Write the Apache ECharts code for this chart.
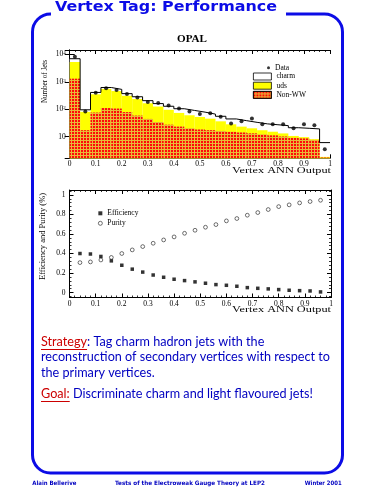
<!DOCTYPE html>
<html><head><meta charset="utf-8">
<script src="https://cdn.jsdelivr.net/npm/echarts@6/dist/echarts.min.js"></script>
<style>html,body{margin:0;padding:0;background:#fff}#c{width:375px;height:500px}</style>
</head><body><div id="c"></div>
<script>
// ---------- data ----------
const binLow = [0,0.04,0.08,0.12,0.16,0.2,0.24,0.28,0.32,0.36,0.4,0.44,0.48,0.52,0.56,0.6,0.64,0.68,0.72,0.76,0.8,0.84,0.88,0.92,0.96];
const binWidth = 0.04;
const nonWW = [1300,17,75,110,105,78,58,44,34,27,23,20,18,17,16,15,14,13,12,11,10,9,8.5,7.5,1.7];
const uds   = [4000,63,275,440,355,232,177,121,91,68,50,40,34,28,20,13,9,7,5,4,3,1.5,1,0.5,0.1];
const charm = [1700,15,60,70,70,60,50,40,35,33,31,30,26,21,19,16,15,13,12,12,12,10.5,10.5,11,4.2];
const dataJets = [8300,82,400,580,500,357,265,182,170,136,107,83,66,71,53,30,36,46,28,28,28,20,28,26,3.4];

const cutX = [0.04,0.08,0.12,0.16,0.2,0.24,0.28,0.32,0.36,0.4,0.44,0.48,0.52,0.56,0.6,0.64,0.68,0.72,0.76,0.8,0.84,0.88,0.92,0.96];
const efficiency = [0.40,0.395,0.37,0.325,0.28,0.24,0.21,0.18,0.157,0.137,0.123,0.11,0.096,0.082,0.075,0.065,0.051,0.044,0.038,0.031,0.024,0.02,0.017,0.007];
const purity = [0.307,0.314,0.334,0.36,0.40,0.437,0.471,0.505,0.539,0.57,0.607,0.638,0.669,0.696,0.734,0.758,0.792,0.819,0.85,0.88,0.898,0.918,0.932,0.945];

// cumulative tops for overlaid histogram
const cumNon = nonWW.slice();
const cumUds = nonWW.map((v,i)=>v+uds[i]);
const cumTot = cumUds.map((v,i)=>v+charm[i]);
const cats = binLow.map(v=>v.toFixed(2));
const outline = binLow.map((x,i)=>[x,cumTot[i]]).concat([[binLow[binLow.length-1]+binWidth, cumTot[cumTot.length-1]]]);

// ---------- helpers ----------
const mctx = document.createElement('canvas').getContext('2d');
function measure(t, font){ mctx.font = font; return mctx.measureText(t).width; }
const SERIF = '"Liberation Serif", "DejaVu Serif", serif';
const BLUE = '#0c0ce6', TXT = '#0000c0', RED = '#cc0000';

function fitText(text, x, y, w, size, family, weight, color, align, opts){
  const font = (weight||'normal')+' '+size+'px '+family;
  const s = w / measure(text, font);
  return Object.assign({type:'text', x, y, scaleX:s, z:100,
    style:{text, fontSize:size, fontFamily:family, fontWeight:weight||'normal', fill:color,
      textAlign:align||'left', textVerticalAlign:'middle'}}, opts||{});
}

// body text scale from longest line
const BODYF = 'Lato, "Open Sans", sans-serif', BODYS = 14;
const bodyFont = 'normal '+BODYS+'px '+BODYF;
const line2 = 'reconstruction of secondary vertices with respect to';
const bscale = 289 / measure(line2, bodyFont);
function bodyLine(rich, y){
  return {type:'text', x:41, y, scaleX:bscale, z:100,
    style:{text:rich, fontSize:BODYS, fontFamily:BODYF, fill:TXT, textAlign:'left', textVerticalAlign:'middle',
      rich:{r:{fill:RED, fontSize:BODYS, fontFamily:BODYF}}}};
}
const wStrategy = measure('Strategy', bodyFont)*bscale;
const wGoal = measure('Goal:', bodyFont)*bscale;

const axisFont = {fontFamily:SERIF, fontSize:7.5, color:'#000'};
const lineBlack = {lineStyle:{color:'#000', width:1}};

function xVal(grid, pos, labels, margin){
  return {type:'value', gridIndex:grid, min:0, max:1, interval:0.1, position:pos,
    axisLine:{show:true, onZero:false, ...lineBlack},
    axisTick:{show:true, inside:true, length:4, ...lineBlack},
    minorTick:{show:true, splitNumber:5, length:2, lineStyle:{color:'#000', width:0.8}},
    splitLine:{show:false},
    axisLabel:{show:labels, margin:margin||1, ...axisFont}};
}

const chart = echarts.init(document.getElementById('c'), null, {renderer:'canvas'});
const option = {
  animation:false,
  backgroundColor:'#fff',
  grid:[
    {left:69.7, top:50, width:260.3, height:108.3},
    {left:69.5, top:190, width:261.5, height:107.5}
  ],
  xAxis:[
    {type:'category', gridIndex:0, data:cats, show:false, boundaryGap:true},
    xVal(0,'bottom',true,1.5),
    xVal(0,'top',false),
    xVal(1,'bottom',true,2.5),
    xVal(1,'top',false)
  ],
  yAxis:[
    {type:'log', gridIndex:0, min:1.6, max:14600, position:'left',
      axisLine:{show:true, ...lineBlack}, axisTick:{show:true, inside:true, length:5, ...lineBlack},
      splitLine:{show:false},
      axisLabel:{margin:4, showMinLabel:false, showMaxLabel:false, ...axisFont,
        formatter:v=>{const e=Math.round(Math.log10(v)); return e===1?'10':'10{s|'+e+'}';},
        rich:{s:{fontSize:5, fontFamily:SERIF, verticalAlign:'top', lineHeight:5, color:'#000'}}}},
    {type:'log', gridIndex:0, min:1.6, max:14600, position:'right',
      axisLine:{show:true, ...lineBlack}, axisTick:{show:true, inside:true, length:5, ...lineBlack},
      splitLine:{show:false}, axisLabel:{show:false}},
    {type:'value', gridIndex:1, min:-0.05, max:1.05, position:'left',
      axisLine:{show:true, onZero:false, ...lineBlack}, axisTick:{show:true, inside:true, length:4, ...lineBlack},
      minorTick:{show:true, splitNumber:5, length:2, lineStyle:{color:'#000', width:0.8}},
      splitLine:{show:false},
      axisLabel:{margin:4, showMinLabel:false, showMaxLabel:false, ...axisFont}},
    {type:'value', gridIndex:1, min:-0.05, max:1.05, position:'right',
      axisLine:{show:true, onZero:false, ...lineBlack}, axisTick:{show:true, inside:true, length:4, ...lineBlack},
      minorTick:{show:true, splitNumber:5, length:2, lineStyle:{color:'#000', width:0.8}},
      splitLine:{show:false}, axisLabel:{show:false}}
  ],
  legend:[
    {left:262, top:58.7, orient:'vertical', itemWidth:3, itemHeight:3, itemGap:1,
      textStyle:{fontFamily:SERIF, fontSize:7.5, lineHeight:8, color:'#000'},
      data:[{name:'Data', icon:'circle', itemStyle:{color:'#000'}}]},
    {left:248, top:67.5, orient:'vertical', itemWidth:18, itemHeight:7, itemGap:1.2,
      textStyle:{fontFamily:SERIF, fontSize:7.5, lineHeight:8, color:'#000'},
      data:[
        {name:'charm', icon:'rect', itemStyle:{color:'#fff', borderColor:'#000', borderWidth:0.8}},
        {name:'uds', icon:'rect', itemStyle:{color:'#ffff00', borderColor:'#000', borderWidth:0.8}},
        {name:'Non-WW', icon:'rect', itemStyle:{borderColor:'#000', borderWidth:0.8}}
      ]},
    {left:93, top:203.8, orient:'vertical', itemWidth:4, itemHeight:4, itemGap:1,
      textStyle:{fontFamily:SERIF, fontSize:7.5, lineHeight:9, color:'#000'},
      data:[
        {name:'Efficiency', icon:'rect', itemStyle:{color:'#000'}},
        {name:'Purity', icon:'circle', itemStyle:{color:'#fff', borderColor:'#000', borderWidth:0.7}}
      ]}
  ],
  series:[
    {name:'charm', type:'bar', xAxisIndex:0, yAxisIndex:0, data:cumTot, barWidth:'100%', barGap:'-100%',
      itemStyle:{color:'#ffffff'}, clip:true, silent:true},
    {name:'uds', type:'bar', xAxisIndex:0, yAxisIndex:0, data:cumUds, barWidth:'100%', barGap:'-100%',
      itemStyle:{color:'#ffff00'}, clip:true, silent:true},
    {name:'Non-WW', type:'bar', xAxisIndex:0, yAxisIndex:0, data:cumNon, barWidth:'100%', barGap:'-100%',
      itemStyle:{color:'#e8b838', decal:{symbol:'rect', symbolSize:1, color:'#ff0a0a', dashArrayX:[2,1], dashArrayY:[2,1], rotation:0}},
      clip:true, silent:true},
    {name:'outline', type:'line', xAxisIndex:1, yAxisIndex:0, data:outline, step:'end', symbol:'none',
      lineStyle:{color:'#000', width:1}, clip:true, silent:true, z:3},
    {name:'Data', type:'scatter', xAxisIndex:0, yAxisIndex:0, data:dataJets, symbol:'circle', symbolSize:4,
      itemStyle:{color:'#000'}, z:5, silent:true},
    {name:'Efficiency', type:'scatter', xAxisIndex:3, yAxisIndex:2, data:cutX.map((x,i)=>[x,efficiency[i]]),
      symbol:'rect', symbolSize:3.5, itemStyle:{color:'#000'}, silent:true},
    {name:'Purity', type:'scatter', xAxisIndex:3, yAxisIndex:2, data:cutX.map((x,i)=>[x,purity[i]]),
      symbol:'circle', symbolSize:3.8, itemStyle:{color:'#fff', borderColor:'#000', borderWidth:0.7}, silent:true}
  ],
  graphic:[
    {type:'rect', z:90, shape:{x:32.5, y:14, width:310, height:459, r:18}, style:{fill:null, stroke:BLUE, lineWidth:3}},
    {type:'rect', z:95, shape:{x:51, y:9, width:235, height:10}, style:{fill:'#fff'}},
    fitText('Vertex Tag: Performance', 55, 7, 222, 14, '"DejaVu Sans", sans-serif', 'bold', BLUE, 'left'),
    fitText('OPAL', 192, 40, 30, 9.5, SERIF, 'bold', '#000', 'center'),
    fitText('Number of Jets', 45, 81.5, 43, 8, SERIF, 'normal', '#000', 'center', {rotation:Math.PI/2}),
    fitText('Vertex ANN Output', 331, 171.5, 99, 7.5, SERIF, 'normal', '#000', 'right'),
    fitText('Efficiency and Purity (%)', 43, 236.5, 87, 7.5, SERIF, 'normal', '#000', 'center', {rotation:Math.PI/2}),
    fitText('Vertex ANN Output', 331, 310, 99, 7.5, SERIF, 'normal', '#000', 'right'),
    bodyLine('{r|Strategy}: Tag charm hadron jets with the', 341),
    bodyLine(line2, 356.5),
    bodyLine('the primary vertices.', 372),
    bodyLine('{r|Goal:} Discriminate charm and light flavoured jets!', 393),
    {type:'line', z:100, shape:{x1:41, y1:349.5, x2:41+wStrategy, y2:349.5}, style:{stroke:RED, lineWidth:1}},
    {type:'line', z:100, shape:{x1:41, y1:401.5, x2:41+wGoal, y2:401.5}, style:{stroke:RED, lineWidth:1}},
    fitText('Alain Bellerive', 32.3, 483.3, 44, 6, '"DejaVu Sans", sans-serif', 'bold', TXT, 'left'),
    fitText('Tests of the Electroweak Gauge Theory at LEP2', 115, 483.3, 150, 6, '"DejaVu Sans", sans-serif', 'bold', TXT, 'left'),
    fitText('Winter 2001', 341.7, 483.3, 37, 6, '"DejaVu Sans", sans-serif', 'bold', TXT, 'right')
  ]
};
chart.setOption(option);
</script>
</body></html>
